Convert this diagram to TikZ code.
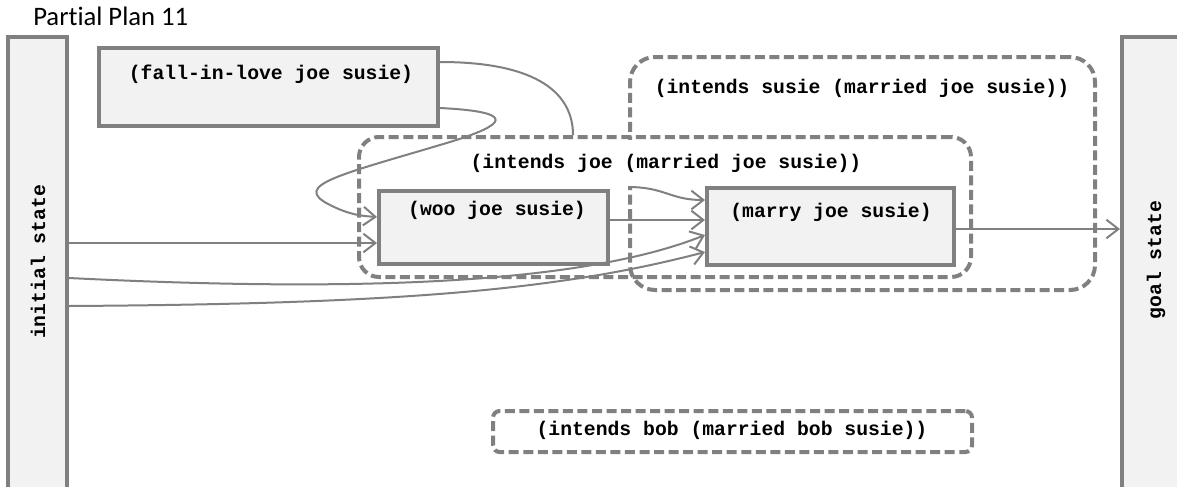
\documentclass[tikz,border=0pt]{standalone}
\usepackage{fontspec}
\setmonofont{Liberation Mono}
\newfontfamily\titlefont{Carlito}[Ligatures=NoCommon]
\usetikzlibrary{arrows.meta,calc}
\definecolor{linegray}{HTML}{808080}
\definecolor{boxfill}{HTML}{F2F2F2}
\def\u{0.75pt}
\begin{document}
\begin{tikzpicture}[x=0.75pt,y=-0.75pt,
  every node/.style={inner sep=0pt},
  mono/.style={font=\ttfamily\bfseries\fontsize{14.8}{17}\selectfont, text=black},
  actbox/.style={draw=linegray, fill=boxfill, line width=3pt},
  dashbox/.style={draw=linegray, line width=3pt, dash pattern=on 7.5pt off 3.4pt},
  link/.style={draw=linegray, line width=1.5pt},
  conn/.style={link, -{Straight Barb[length=9pt,width=14pt]}},
]
\useasboundingbox (0,0) rectangle (1177,486);
\clip (0,0) rectangle (1177,486);

% title
\node[font=\titlefont\fontsize{20}{24}\selectfont, anchor=base west] (title) at (33,25) {Partial Plan 11};

% constraint regions
\node[dashbox, rounded corners=18.75pt, minimum width=465*\u, minimum height=233*\u] (susie) at (862.5,173.5) {};
\node[dashbox, rounded corners=15pt, minimum width=612*\u, minimum height=140*\u] (joe) at (665,207) {};
\node[mono] (susietext) at (862,88) {(intends susie (married joe susie))};
\node[mono, fill=white, inner xsep=4pt, minimum height=46*\u] (joetext) at (666,163) {(intends joe (married joe susie))};
\node[dashbox, rounded corners=5pt, minimum width=479*\u, minimum height=41*\u] (bob) at (732.5,431.5) {};
\node[mono] (bobtext) at (732,430) {(intends bob (married bob susie))};

% steps
\node[actbox, minimum width=339*\u, minimum height=78*\u] (fall) at (268.5,87) {};
\node[mono] (falltext) at (271,74) {(fall-in-love joe susie)};
\node[actbox, minimum width=229*\u, minimum height=73*\u] (woo) at (493.5,227.5) {};
\node[mono] (wootext) at (497,210) {(woo joe susie)};
\node[actbox, minimum width=247*\u, minimum height=77*\u] (marry) at (830.5,226.5) {};
\node[mono] (marrytext) at (831,212) {(marry joe susie)};

% initial and goal states
\node[actbox, minimum width=59*\u, minimum height=483*\u] (init) at (37.5,278.5) {};
\node[mono, rotate=90] (inittext) at (38,262) {initial state};
\node[actbox, minimum width=63*\u, minimum height=483*\u] (goal) at (1153.5,278.5) {};
\node[mono, rotate=90] (goaltext) at (1156,260) {goal state};

% causal links
\draw[link] (fall.east |- 0,62) .. controls (540,62) and (573,95) .. (joe.north -| 573,0);
\draw[conn] (fall.east |- 0,108) .. controls (520,112) and (505,125) .. (450,142)
  .. controls (340,175) and (290,185) .. (330,205)
  .. controls (350,215) and (362,216) .. (woo.west |- 0,217);
\draw[conn] (init.east |- 0,243) -- (woo.west |- 0,243);
\draw[conn] (init.east |- 0,278) .. controls (350,292) and (580,285) .. (marry.west |- 0,235);
\draw[conn] (init.east |- 0,306) .. controls (400,304) and (560,290) .. (marry.west |- 0,252);
\draw[conn] (woo.east |- 0,220) -- (marry.west |- 0,220);
\draw[conn] (susie.west |- 0,187) .. controls (665,187) and (670,200) .. (marry.west |- 0,200);
\draw[conn] (marry.east |- 0,229) -- (goal.west |- 0,229);
\end{tikzpicture}
\end{document}
